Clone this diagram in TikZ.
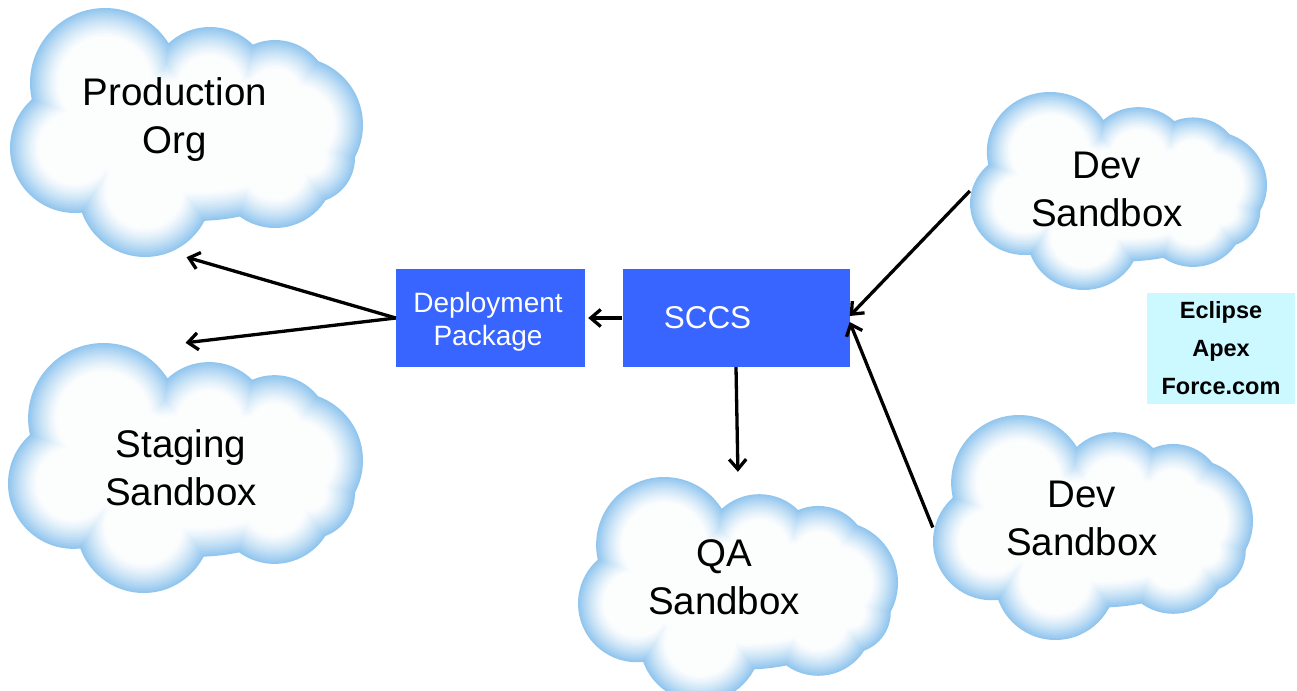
\documentclass[tikz,border=0pt]{standalone}
\usepackage{fontspec}
\setmainfont{Liberation Sans}
\usetikzlibrary{arrows.meta}

\definecolor{cloudblue}{RGB}{146,198,238}
\definecolor{boxblue}{RGB}{56,100,255}
\definecolor{toolcyan}{RGB}{204,249,255}

% Soft-edged cloud built from overlapping circles; each inner layer is a
% shrunken copy of the outline in a lighter tint, so the edge glows blue.
% #1 name, #2 #3 top-left corner, #4 #5 bottom-right corner (base size 353 x 249)
\newcommand\cloudat[5]{%
  \begin{scope}[shift={(#2,#3)}, xscale={(#4-#2)/353}, yscale={(#5-#3)/249}]
    \foreach \k in {0,...,15}{
      \pgfmathsetmacro\cshade{100*(1-\k/16)^1.35}
      \pgfmathsetmacro\cinset{1.9*\k}
      \fill[cloudblue!\cshade!white]
        \foreach \cx/\cy/\cr in {95/75/75, 200/80/61, 265/87/55, 285/117/68,
                                 265/160/60, 300/150/45, 135/182/67, 65/140/65,
                                 185/130/75, 130/110/70, 240/115/70}
          { (\cx,\cy) circle[radius=\cr-\cinset] }
        (185,128) ellipse[x radius=140-\cinset, y radius=85-\cinset];
    }
  \end{scope}
  \node[cloudbox, minimum width={(#4-#2)*1pt}, minimum height={(#5-#3)*1pt}]
    (#1) at ({(#2+#4)/2},{(#3+#5)/2}) {};
}

\begin{document}
\begin{tikzpicture}[x=1pt, y=-1pt,
  cloudbox/.style={rectangle, inner sep=0pt, draw=none},
  cloudtext/.style={align=center, inner sep=0pt, text=black,
    font=\fontsize{38.5}{48}\selectfont},
  bluebox/.style={rectangle, fill=boxblue, inner sep=0pt},
  boxtext/.style={align=center, inner sep=0pt, text=white},
  toolbox/.style={rectangle, fill=toolcyan, inner sep=0pt, align=center,
    font=\bfseries\fontsize{23.5}{38}\selectfont},
  flow/.style={line width=3.3pt, -{Straight Barb[length=10pt,width=17pt]}}]

\useasboundingbox (0,0) rectangle (1297,690);
\clip (0,0) rectangle (1297,690);

% clouds
\cloudat{prod}{10}{8}{363}{257}
\cloudat{stag}{8}{343}{363}{593}
\cloudat{devtop}{970}{92}{1267}{290}
\cloudat{qa}{578}{477}{898}{702}
\cloudat{devbot}{933}{415}{1253}{640}

\node[cloudtext] (prodtext)   at (175,120)   {Production\\Org};
\node[cloudtext] (stagtext)   at (181,467.5) {Staging\\Sandbox};
\node[cloudtext] (devtoptext) at (1107,189.5) {Dev\\Sandbox};
\node[cloudtext] (qatext)     at (724,577)   {QA\\Sandbox};
\node[cloudtext] (devbottext) at (1082,518.5) {Dev\\Sandbox};

% blue process boxes
\node[bluebox, minimum width=189pt, minimum height=98pt] (dep)  at (490.5,318) {};
\node[bluebox, minimum width=227pt, minimum height=98pt] (sccs) at (736,318) {};
\node[boxtext, font=\fontsize{28}{33}\selectfont] (deptext) at (488,321.5) {Deployment\\Package};
\node[boxtext, font=\fontsize{31.5}{36}\selectfont] (sccstext) at (707.5,318) {SCCS};

% tool list
\node[toolbox, minimum width=148pt, minimum height=111pt] (tools) at (1221,348.5)
  {Eclipse\\Apex\\Force.com};

% connectors
\draw[flow] (dep.west) -- (prod.south);
\draw[flow] (dep.west) -- (stag.north);
\draw[flow, shorten >=3pt] (sccs.west) -- (dep.east);
\draw[flow, shorten >=5pt] (sccs.south) -- (qa.north);
\draw[flow] (devtop.west) -- ([yshift=2pt]sccs.east);
\draw[flow] (devbot.west) -- ([yshift=-4pt]sccs.east);

\end{tikzpicture}
\end{document}
